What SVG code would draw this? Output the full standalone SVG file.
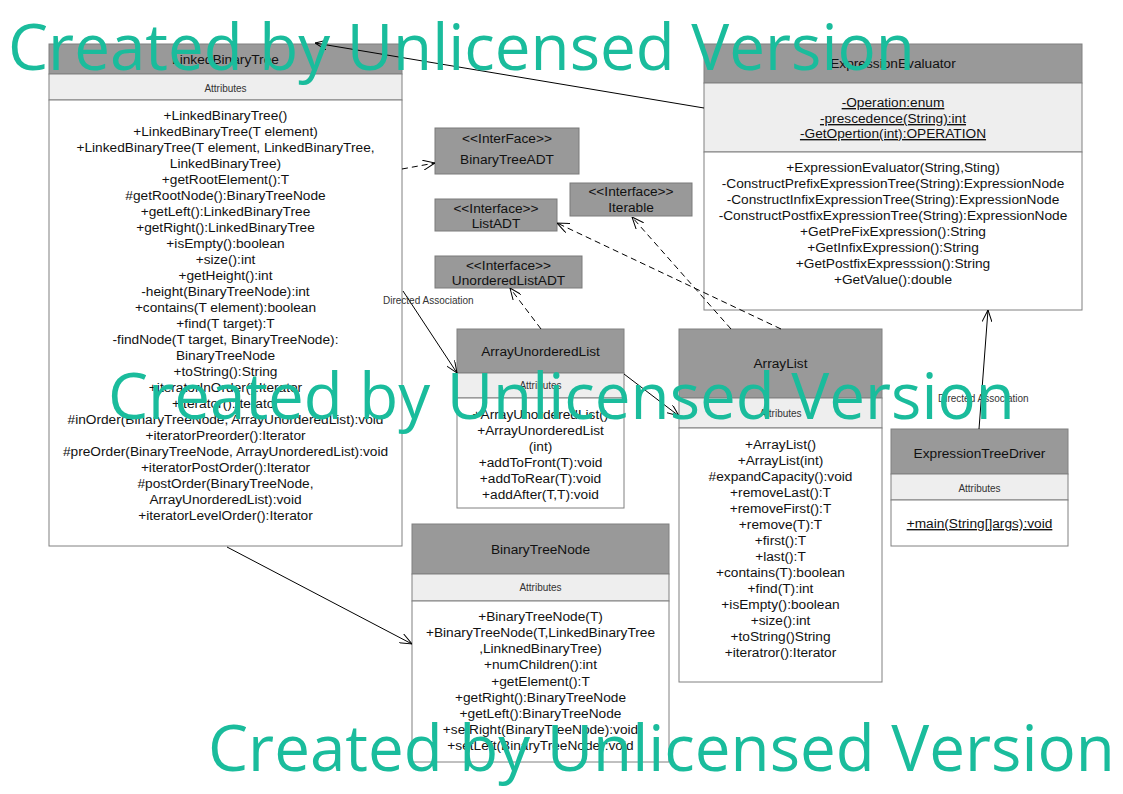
<svg xmlns="http://www.w3.org/2000/svg" width="1123" height="794" viewBox="0 0 1123 794">
<style>
.hdr{fill:#999999;stroke:#808080;stroke-width:1}
.att{fill:#eeeeee;stroke:#808080;stroke-width:1}
.body{fill:#ffffff;stroke:#808080;stroke-width:1}
.ifc{fill:#999999;stroke:#7a7a7a;stroke-width:1}
text{font-family:"Liberation Sans",Arial,sans-serif;fill:#111}
.t{font-size:13.7px;text-anchor:middle}
.a{font-size:10px;text-anchor:middle;fill:#333}
.lbl{font-size:10px;fill:#333}
.u{text-decoration:underline}
.c{stroke:#000;stroke-width:1;fill:none}
.d{stroke-dasharray:6,4}
.wm{font-family:"Open Sans","Noto Sans",sans-serif;font-size:63.7px;fill:#1abc9c}
</style>
<defs>
<marker id="open" viewBox="0 0 12 10" refX="12" refY="5" markerWidth="12" markerHeight="10" markerUnits="userSpaceOnUse" orient="auto">
<path d="M0,0 L12,5 L0,10" fill="none" stroke="#000" stroke-width="1"/>
</marker>
</defs>

<g id="LinkedBinaryTree">
<rect class="hdr" x="49" y="44" width="353" height="30"/>
<rect class="att" x="49" y="74" width="353" height="26"/>
<rect class="body" x="49" y="100" width="353" height="446"/>
<text class="t" x="225.5" y="64">LinkedBinaryTree</text>
<text class="a" x="225.5" y="91.5">Attributes</text>
<text class="t" x="225.5" y="120">+LinkedBinaryTree()</text>
<text class="t" x="225.5" y="136">+LinkedBinaryTree(T element)</text>
<text class="t" x="225.5" y="152">+LinkedBinaryTree(T element, LinkedBinaryTree,</text>
<text class="t" x="225.5" y="168">LinkedBinaryTree)</text>
<text class="t" x="225.5" y="184">+getRootElement():T</text>
<text class="t" x="225.5" y="200">#getRootNode():BinaryTreeNode</text>
<text class="t" x="225.5" y="216">+getLeft():LinkedBinaryTree</text>
<text class="t" x="225.5" y="232">+getRight():LinkedBinaryTree</text>
<text class="t" x="225.5" y="248">+isEmpty():boolean</text>
<text class="t" x="225.5" y="264">+size():int</text>
<text class="t" x="225.5" y="280">+getHeight():int</text>
<text class="t" x="225.5" y="296">-height(BinaryTreeNode):int</text>
<text class="t" x="225.5" y="312">+contains(T element):boolean</text>
<text class="t" x="225.5" y="328">+find(T target):T</text>
<text class="t" x="225.5" y="344">-findNode(T target, BinaryTreeNode):</text>
<text class="t" x="225.5" y="360">BinaryTreeNode</text>
<text class="t" x="225.5" y="376">+toString():String</text>
<text class="t" x="225.5" y="392">+iteratorInOrder():Iterator</text>
<text class="t" x="225.5" y="408">+iterator():Iterator</text>
<text class="t" x="225.5" y="424">#inOrder(BinaryTreeNode, ArrayUnorderedList):void</text>
<text class="t" x="225.5" y="440">+iteratorPreorder():Iterator</text>
<text class="t" x="225.5" y="456">#preOrder(BinaryTreeNode, ArrayUnorderedList):void</text>
<text class="t" x="225.5" y="472">+iteratorPostOrder():Iterator</text>
<text class="t" x="225.5" y="488">#postOrder(BinaryTreeNode,</text>
<text class="t" x="225.5" y="504">ArrayUnorderedList):void</text>
<text class="t" x="225.5" y="520">+iteratorLevelOrder():Iterator</text>
</g>

<g id="BinaryTreeADT">
<rect class="ifc" x="435" y="128" width="144" height="46"/>
<text class="t" x="507" y="143">&lt;&lt;InterFace&gt;&gt;</text>
<text class="t" x="507" y="164">BinaryTreeADT</text>
</g>
<g id="ListADT">
<rect class="ifc" x="435" y="199" width="122" height="32"/>
<text class="t" x="496" y="213">&lt;&lt;Interface&gt;&gt;</text>
<text class="t" x="496" y="228">ListADT</text>
</g>
<g id="Iterable">
<rect class="ifc" x="570" y="183" width="122" height="33"/>
<text class="t" x="631" y="196">&lt;&lt;Interface&gt;&gt;</text>
<text class="t" x="631" y="212">Iterable</text>
</g>
<g id="UnorderedListADT">
<rect class="ifc" x="435" y="256" width="147" height="32"/>
<text class="t" x="508.5" y="270">&lt;&lt;Interface&gt;&gt;</text>
<text class="t" x="508.5" y="285">UnorderedListADT</text>
</g>

<g id="ExpressionEvaluator">
<rect class="hdr" x="704" y="44" width="378" height="39"/>
<rect class="att" x="704" y="83" width="378" height="69"/>
<rect class="body" x="704" y="152" width="378" height="158"/>
<text class="t" x="893" y="68">ExpressionEvaluator</text>
<text class="t u" x="893" y="107">-Operation:enum</text>
<text class="t u" x="893" y="123">-prescedence(String):int</text>
<text class="t u" x="893" y="138">-GetOpertion(int):OPERATION</text>
<text class="t" x="893" y="172">+ExpressionEvaluator(String,Sting)</text>
<text class="t" x="893" y="188">-ConstructPrefixExpressionTree(String):ExpressionNode</text>
<text class="t" x="893" y="204">-ConstructInfixExpressionTree(String):ExpressionNode</text>
<text class="t" x="893" y="220">-ConstructPostfixExpressionTree(String):ExpressionNode</text>
<text class="t" x="893" y="236">+GetPreFixExpression():String</text>
<text class="t" x="893" y="252">+GetInfixExpression():String</text>
<text class="t" x="893" y="268">+GetPostfixExpresssion():String</text>
<text class="t" x="893" y="284">+GetValue():double</text>
</g>

<g id="ArrayUnorderedList">
<rect class="hdr" x="457" y="329" width="167" height="44"/>
<rect class="att" x="457" y="373" width="167" height="25"/>
<rect class="body" x="457" y="398" width="167" height="110"/>
<text class="t" x="540.5" y="356">ArrayUnorderedList</text>
<text class="a" x="540.5" y="388.5">Attributes</text>
<text class="t" x="540.5" y="419">+ArrayUnorderedList()</text>
<text class="t" x="540.5" y="435">+ArrayUnorderedList</text>
<text class="t" x="540.5" y="451">(int)</text>
<text class="t" x="540.5" y="467">+addToFront(T):void</text>
<text class="t" x="540.5" y="483">+addToRear(T):void</text>
<text class="t" x="540.5" y="499">+addAfter(T,T):void</text>
</g>

<g id="ArrayList">
<rect class="hdr" x="679" y="329" width="203" height="69"/>
<rect class="att" x="679" y="398" width="203" height="30"/>
<rect class="body" x="679" y="428" width="203" height="254"/>
<text class="t" x="780.5" y="368">ArrayList</text>
<text class="a" x="780.5" y="416.5">Attributes</text>
<text class="t" x="780.5" y="449">+ArrayList()</text>
<text class="t" x="780.5" y="465">+ArrayList(int)</text>
<text class="t" x="780.5" y="481">#expandCapacity():void</text>
<text class="t" x="780.5" y="497">+removeLast():T</text>
<text class="t" x="780.5" y="513">+removeFirst():T</text>
<text class="t" x="780.5" y="529">+remove(T):T</text>
<text class="t" x="780.5" y="545">+first():T</text>
<text class="t" x="780.5" y="561">+last():T</text>
<text class="t" x="780.5" y="577">+contains(T):boolean</text>
<text class="t" x="780.5" y="593">+find(T):int</text>
<text class="t" x="780.5" y="609">+isEmpty():boolean</text>
<text class="t" x="780.5" y="625">+size():int</text>
<text class="t" x="780.5" y="641">+toString()String</text>
<text class="t" x="780.5" y="657">+iteratror():Iterator</text>
</g>

<g id="ExpressionTreeDriver">
<rect class="hdr" x="891" y="429" width="177" height="45"/>
<rect class="att" x="891" y="474" width="177" height="26"/>
<rect class="body" x="891" y="500" width="177" height="46"/>
<text class="t" x="979.5" y="458">ExpressionTreeDriver</text>
<text class="a" x="979.5" y="491.5">Attributes</text>
<text class="t u" x="979.5" y="528">+main(String[]args):void</text>
</g>

<g id="BinaryTreeNode">
<rect class="hdr" x="412" y="524" width="257" height="50"/>
<rect class="att" x="412" y="574" width="257" height="27"/>
<rect class="body" x="412" y="601" width="257" height="161"/>
<text class="t" x="540.5" y="554">BinaryTreeNode</text>
<text class="a" x="540.5" y="590.5">Attributes</text>
<text class="t" x="540.5" y="621">+BinaryTreeNode(T)</text>
<text class="t" x="540.5" y="637">+BinaryTreeNode(T,LinkedBinaryTree</text>
<text class="t" x="540.5" y="653">,LinknedBinaryTree)</text>
<text class="t" x="540.5" y="669">+numChildren():int</text>
<text class="t" x="540.5" y="686">+getElement():T</text>
<text class="t" x="540.5" y="702">+getRight():BinaryTreeNode</text>
<text class="t" x="540.5" y="718">+getLeft():BinaryTreeNode</text>
<text class="t" x="540.5" y="734">+setRight(BinaryTreeNode):void</text>
<text class="t" x="540.5" y="750">+setLeft(BinaryTreeNode):void</text>
</g>

<g id="connectors">
<line class="c" x1="704" y1="108" x2="315" y2="43" marker-end="url(#open)"/>
<line class="c d" x1="402" y1="169" x2="435" y2="163" marker-end="url(#open)"/>
<line class="c" x1="403" y1="291" x2="457" y2="373" marker-end="url(#open)"/>
<text class="lbl" x="383" y="304">Directed Association</text>
<line class="c" x1="227" y1="547" x2="412" y2="644" marker-end="url(#open)"/>
<line class="c d" x1="541" y1="329" x2="510" y2="288" marker-end="url(#open)"/>
<line class="c" x1="624" y1="374" x2="679" y2="416" marker-end="url(#open)"/>
<line class="c d" x1="781" y1="329" x2="557" y2="223" marker-end="url(#open)"/>
<line class="c d" x1="731" y1="329" x2="632" y2="217" marker-end="url(#open)"/>
<line class="c" x1="979" y1="429" x2="988" y2="310" marker-end="url(#open)"/>
<text class="lbl" x="938" y="402">Directed Association</text>
</g>

<g id="watermark">
<text class="wm" x="8" y="70">Created by Unlicensed Version</text>
<text class="wm" x="108" y="419">Created by Unlicensed Version</text>
<text class="wm" x="208" y="771">Created by Unlicensed Version</text>
</g>
</svg>
